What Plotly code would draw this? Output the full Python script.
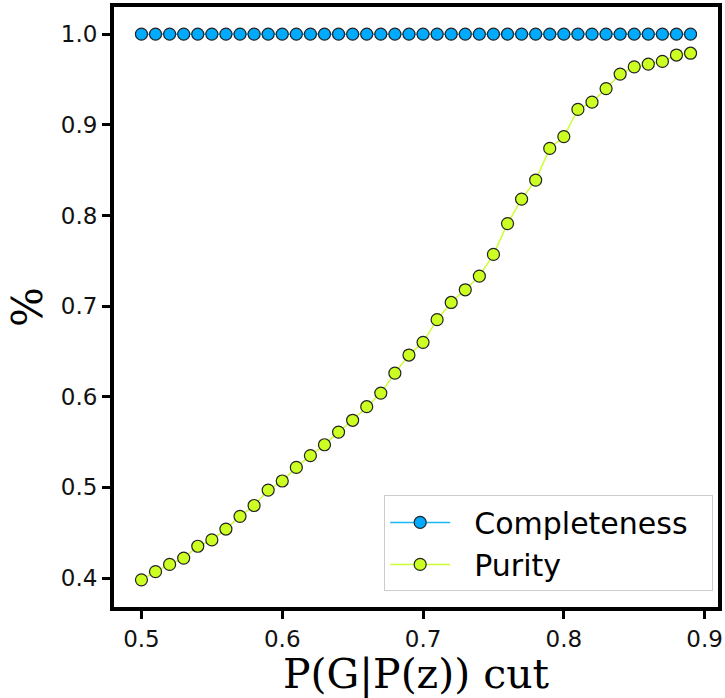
import plotly.graph_objects as go

cuts = [0.50, 0.51, 0.52, 0.53, 0.54, 0.55, 0.56, 0.57, 0.58, 0.59,
        0.60, 0.61, 0.62, 0.63, 0.64, 0.65, 0.66, 0.67, 0.68, 0.69,
        0.70, 0.71, 0.72, 0.73, 0.74, 0.75, 0.76, 0.77, 0.78, 0.79,
        0.80, 0.81, 0.82, 0.83, 0.84, 0.85, 0.86, 0.87, 0.88, 0.89]
completeness = [1.0] * 40
purity = [0.398, 0.407, 0.415, 0.422, 0.435, 0.442, 0.454, 0.468, 0.480, 0.497,
          0.507, 0.522, 0.535, 0.547, 0.561, 0.574, 0.589, 0.604, 0.626, 0.646,
          0.660, 0.685, 0.704, 0.718, 0.733, 0.757, 0.791, 0.818, 0.839, 0.874,
          0.887, 0.917, 0.925, 0.940, 0.956, 0.964, 0.967, 0.970, 0.977, 0.979]
tick_vals_x = [0.5, 0.6, 0.7, 0.8, 0.9]
tick_vals_y = [0.4, 0.5, 0.6, 0.7, 0.8, 0.9, 1.0]
series_names = ["\u00a0\u00a0Completeness\u00a0\u00a0", "\u00a0\u00a0Purity"]

fig = go.Figure()
fig.add_trace(go.Scatter(
    x=cuts, y=completeness, mode="lines+markers", name=series_names[0],
    line=dict(color="#1ab8f5", width=1.5),
    marker=dict(size=12, color="#00aaff", line=dict(color="#222222", width=1.2)),
))
fig.add_trace(go.Scatter(
    x=cuts, y=purity, mode="lines+markers", name=series_names[1],
    line=dict(color="#ccff33", width=1.5),
    marker=dict(size=12, color="#ccff22", line=dict(color="#222222", width=1.2)),
))

axis_common = dict(
    showline=True, mirror=True, linecolor="black", linewidth=4,
    ticks="outside", ticklen=8, tickwidth=3, tickcolor="black",
    showgrid=False, zeroline=False, automargin=False,
    tickfont=dict(family="DejaVu Sans", size=23, color="#111111"),
)

fig.update_layout(
    width=725, height=698, autosize=False,
    margin=dict(l=114, r=7, t=7, b=91),
    plot_bgcolor="white", paper_bgcolor="white",
    xaxis=dict(range=[0.4805, 0.9095], tickvals=tick_vals_x, tickformat=".1f",
               title=dict(text="P(G|P(z)) cut", font=dict(family="DejaVu Serif", size=41, color="black"),
                          standoff=9),
               **axis_common),
    yaxis=dict(range=[0.368, 1.030], tickvals=tick_vals_y, tickformat=".1f",
               title=dict(text="%", font=dict(family="DejaVu Serif", size=42, color="black"),
                          standoff=6),
               **axis_common),
    legend=dict(x=0.992, y=0.026, xanchor="right", yanchor="bottom",
                bgcolor="rgba(255,255,255,0.8)", bordercolor="#cccccc", borderwidth=1,
                font=dict(family="DejaVu Sans", size=30, color="black"),
                itemwidth=60, tracegroupgap=0),
    showlegend=True,
)

fig.write_html("out.html")
